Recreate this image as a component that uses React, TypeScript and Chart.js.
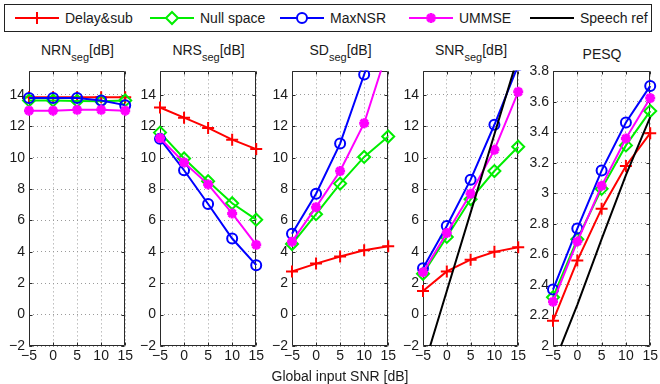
import React, { useEffect, useRef } from 'react';
import { Chart, registerables } from 'chart.js';

Chart.register(...registerables);

// ---------- data ----------
const inputSnr = [-5, 0, 5, 10, 15];
const xTickLabels = ['\u22125', '0', '5', '10', '15'];
const dbTicks = [-2, 0, 2, 4, 6, 8, 10, 12, 14];
const dbTickLabels = ['\u22122', '0', '2', '4', '6', '8', '10', '12', '14'];
const pesqTicks = [2, 2.2, 2.4, 2.6, 2.8, 3, 3.2, 3.4, 3.6, 3.8];
const pesqTickLabels = ['2', '2.2', '2.4', '2.6', '2.8', '3', '3.2', '3.4', '3.6', '3.8'];
const methodNames = ['Delay&sub', 'Null space', 'MaxNSR', 'UMMSE', 'Speech ref'];

const nrnDelay = [13.85, 13.85, 13.85, 13.85, 13.85];
const nrnNull = [13.65, 13.65, 13.62, 13.6, 13.65];
const nrnMax = [13.8, 13.8, 13.8, 13.65, 13.35];
const nrnUmmse = [13.0, 13.0, 13.05, 13.05, 13.0];

const nrsDelay = [13.2, 12.55, 11.9, 11.15, 10.55];
const nrsNull = [11.6, 9.95, 8.5, 7.1, 6.05];
const nrsMax = [11.2, 9.2, 7.05, 4.85, 3.15];
const nrsUmmse = [11.25, 9.7, 8.3, 6.45, 4.45];

const sdDelay = [2.75, 3.25, 3.7, 4.1, 4.35];
const sdNull = [4.5, 6.4, 8.35, 10.05, 11.35];
const sdMax = [5.15, 7.7, 10.9, 15.3, 19.7];
const sdUmmse = [4.65, 6.85, 9.15, 12.2, 17.0];

const snrDelay = [1.5, 2.75, 3.5, 4.0, 4.3];
const snrNull = [2.6, 4.95, 7.35, 9.15, 10.7];
const snrMax = [2.95, 5.65, 8.6, 12.1, 15.9];
const snrUmmse = [2.7, 5.2, 7.7, 10.5, 14.2];
const snrSpeech = [-3.5, 1.5, 6.5, 11.5, 16.5];

const pesqDelay = [2.165, 2.56, 2.9, 3.18, 3.395];
const pesqNull = [2.32, 2.7, 3.03, 3.315, 3.54];
const pesqMax = [2.37, 2.77, 3.15, 3.465, 3.705];
const pesqUmmse = [2.29, 2.685, 3.05, 3.36, 3.625];
const pesqSpeech = [1.87, 2.27, 2.7, 3.12, 3.5];

// ---------- styling ----------
const FONT = "'Liberation Sans', Arial, Helvetica, sans-serif";
const TEXT = '#1a1a1a';
const GRID = '#9a9a9a';
const FRAME = '#2a2a2a';
const RED = '#ff0000';
const GREEN = '#00ee00';
const BLUE = '#0000ff';
const MAGENTA = '#ff00ff';
const BLACK = '#000000';

const Y_AXIS_W = 29;
const PAD_R = 9;
const PAD_T = 10;
const CANVAS_TOP = 59;
const CANVAS_H = 311;
const X_AXIS_H = 24;

type Marker = 'cross' | 'rectRot' | 'circle' | 'star' | 'none';

function makeDataset(values: number[], color: string, marker: Marker, order: number) {
  const hollow = marker === 'circle' || marker === 'rectRot';
  return {
    data: inputSnr.map((x, i) => ({ x, y: values[i] })),
    borderColor: color,
    backgroundColor: color,
    borderWidth: 2,
    pointStyle: marker === 'none' ? false : marker,
    pointRadius: marker === 'none' ? 0 : marker === 'star' ? 5 : marker === 'circle' ? 5 : 6,
    pointBorderWidth: marker === 'star' ? 3 : 2,
    pointBorderColor: color,
    pointBackgroundColor: hollow ? 'rgba(255,255,255,0)' : color,
    tension: 0,
    order,
    clip: { left: 10, right: 10, top: 1, bottom: 0 },
  };
}

function methodSets(d: number[], n: number[], m: number[], u: number[], s?: number[]) {
  const sets: any[] = [
    makeDataset(d, RED, 'cross', 5),
    makeDataset(n, GREEN, 'rectRot', 4),
    makeDataset(m, BLUE, 'circle', 3),
    makeDataset(u, MAGENTA, 'star', 2),
  ];
  if (s) sets.push(makeDataset(s, BLACK, 'none', 1));
  return sets;
}

const framePlugin = {
  id: 'frameBox',
  beforeDatasetsDraw(chart: any) {
    const { ctx, chartArea: a, scales } = chart;
    const L = Math.round(a.left) + 0.5;
    const R = Math.round(a.right) - 0.5;
    const T = Math.round(a.top) + 0.5;
    const B = Math.round(a.bottom) - 0.5;
    ctx.save();
    ctx.strokeStyle = FRAME;
    ctx.lineWidth = 1;
    ctx.setLineDash([]);
    ctx.beginPath();
    ctx.rect(L, T, R - L, B - T);
    for (const t of scales.x.ticks) {
      const p = Math.round(scales.x.getPixelForValue(t.value)) + 0.5;
      ctx.moveTo(p, B); ctx.lineTo(p, B - 3);
      ctx.moveTo(p, T); ctx.lineTo(p, T + 3);
    }
    for (const t of scales.y.ticks) {
      const p = Math.round(scales.y.getPixelForValue(t.value)) + 0.5;
      ctx.moveTo(L, p); ctx.lineTo(L + 3, p);
      ctx.moveTo(R, p); ctx.lineTo(R - 3, p);
    }
    ctx.stroke();
    ctx.restore();
  },
};

type PanelProps = {
  plotLeft: number;
  plotRight: number;
  yMin: number;
  yMax: number;
  yTicks: number[];
  yLabels: string[];
  datasets: any[];
};

function Panel({ plotLeft, plotRight, yMin, yMax, yTicks, yLabels, datasets }: PanelProps) {
  const ref = useRef<HTMLCanvasElement>(null);
  const width = plotRight - plotLeft + Y_AXIS_W + PAD_R;
  useEffect(() => {
    if (!ref.current) return;
    const tickFont = { family: FONT, size: 14 };
    const chart = new Chart(ref.current, {
      type: 'line',
      data: { datasets },
      options: {
        animation: false,
        responsive: false,
        maintainAspectRatio: false,
        events: [],
        layout: { padding: { top: PAD_T, right: PAD_R, left: 0, bottom: 0 } },
        plugins: { legend: { display: false }, tooltip: { enabled: false }, title: { display: false } },
        scales: {
          x: {
            type: 'linear',
            min: inputSnr[0],
            max: inputSnr[inputSnr.length - 1],
            afterBuildTicks: (s: any) => { s.ticks = inputSnr.map((v) => ({ value: v })); },
            afterFit: (s: any) => { s.height = X_AXIS_H; },
            ticks: {
              font: tickFont, color: TEXT, padding: 2, maxRotation: 0, autoSkip: false,
              callback: (_v: any, i: number) => xTickLabels[i],
            },
            grid: { color: GRID, lineWidth: 1, drawTicks: false },
            border: { display: false, dash: [1, 3] },
          },
          y: {
            type: 'linear',
            min: yMin,
            max: yMax,
            afterBuildTicks: (s: any) => { s.ticks = yTicks.map((v) => ({ value: v })); },
            afterFit: (s: any) => { s.width = Y_AXIS_W; },
            ticks: {
              font: tickFont, color: TEXT, padding: 4, autoSkip: false,
              callback: (_v: any, i: number) => yLabels[i],
            },
            grid: { color: GRID, lineWidth: 1, drawTicks: false },
            border: { display: false, dash: [1, 3] },
          },
        },
      } as any,
      plugins: [framePlugin],
    });
    return () => chart.destroy();
  }, []);
  return (
    <canvas
      ref={ref}
      width={width}
      height={CANVAS_H}
      style={{ position: 'absolute', left: plotLeft - Y_AXIS_W, top: CANVAS_TOP, width, height: CANVAS_H }}
    />
  );
}

function Title({ cx, main, sub, tail, baseline }: { cx: number; main: string; sub?: string; tail?: string; baseline: number }) {
  return (
    <div
      style={{
        position: 'absolute', left: cx - 60, width: 120, top: baseline - 13, textAlign: 'center',
        fontFamily: FONT, fontSize: 14, lineHeight: '16px', color: TEXT, whiteSpace: 'nowrap',
      }}
    >
      {main}
      {sub ? <span style={{ fontSize: 11, verticalAlign: '-6px' }}>{sub}</span> : null}
      {tail}
    </div>
  );
}

const legendColors = [RED, GREEN, BLUE, MAGENTA, BLACK];
const legendMarkers: Marker[] = ['cross', 'rectRot', 'circle', 'star', 'none'];
// absolute x of each legend text start
const legendTextStart = [65, 200, 330, 459, 580];
const LEGEND_LEFT = 4;

function LegendMarker({ kind, cx, cy, color }: { kind: Marker; cx: number; cy: number; color: string }) {
  if (kind === 'cross') {
    return <path d={`M${cx - 6} ${cy}H${cx + 6}M${cx} ${cy - 6}V${cy + 6}`} stroke={color} strokeWidth={2} />;
  }
  if (kind === 'rectRot') {
    return <polygon points={`${cx},${cy - 6} ${cx + 6},${cy} ${cx},${cy + 6} ${cx - 6},${cy}`} fill="#fff" stroke={color} strokeWidth={2} />;
  }
  if (kind === 'circle') {
    return <circle cx={cx} cy={cy} r={5} fill="#fff" stroke={color} strokeWidth={2} />;
  }
  if (kind === 'star') {
    const r = 5, q = 3.5;
    return (
      <path
        d={`M${cx - r} ${cy}H${cx + r}M${cx} ${cy - r}V${cy + r}M${cx - q} ${cy - q}L${cx + q} ${cy + q}M${cx - q} ${cy + q}L${cx + q} ${cy - q}`}
        stroke={color} strokeWidth={3}
      />
    );
  }
  return null;
}

function Legend() {
  const cy = 13;
  const inner = LEGEND_LEFT + 1;
  return (
    <div style={{ position: 'absolute', left: LEGEND_LEFT, top: 4, width: 646, height: 26, border: '1px solid #222', background: '#fff' }}>
      <svg width={646} height={26} style={{ position: 'absolute', left: 0, top: 0 }}>
        {methodNames.map((_, i) => {
          const x1 = legendTextStart[i] - inner - 6;
          const x0 = x1 - 44;
          return (
            <g key={i}>
              <line x1={x0} y1={cy} x2={x1} y2={cy} stroke={legendColors[i]} strokeWidth={2} />
              <LegendMarker kind={legendMarkers[i]} cx={(x0 + x1) / 2} cy={cy} color={legendColors[i]} />
            </g>
          );
        })}
      </svg>
      {methodNames.map((name, i) => (
        <span
          key={name}
          style={{
            position: 'absolute', left: legendTextStart[i] - inner, top: 5, fontFamily: FONT, fontSize: 14,
            lineHeight: '16px', color: TEXT, whiteSpace: 'nowrap',
          }}
        >
          {name}
        </span>
      ))}
    </div>
  );
}

const plots = [
  { l: 29, r: 126 },
  { l: 160, r: 257 },
  { l: 292, r: 389 },
  { l: 423, r: 519 },
  { l: 553, r: 651 },
];

export default function App() {
  return (
    <div style={{ position: 'absolute', left: 0, top: 0, width: 660, height: 384, background: '#fff', overflow: 'hidden' }}>
      <Legend />
      <Title cx={(plots[0].l + plots[0].r) / 2} main="NRN" sub="seg" tail="[dB]" baseline={55} />
      <Title cx={(plots[1].l + plots[1].r) / 2} main="NRS" sub="seg" tail="[dB]" baseline={55} />
      <Title cx={(plots[2].l + plots[2].r) / 2} main="SD" sub="seg" tail="[dB]" baseline={55} />
      <Title cx={(plots[3].l + plots[3].r) / 2} main="SNR" sub="seg" tail="[dB]" baseline={55} />
      <Title cx={(plots[4].l + plots[4].r) / 2} main="PESQ" baseline={59} />
      <Panel plotLeft={plots[0].l} plotRight={plots[0].r} yMin={-2} yMax={15.5} yTicks={dbTicks} yLabels={dbTickLabels}
        datasets={methodSets(nrnDelay, nrnNull, nrnMax, nrnUmmse)} />
      <Panel plotLeft={plots[1].l} plotRight={plots[1].r} yMin={-2} yMax={15.5} yTicks={dbTicks} yLabels={dbTickLabels}
        datasets={methodSets(nrsDelay, nrsNull, nrsMax, nrsUmmse)} />
      <Panel plotLeft={plots[2].l} plotRight={plots[2].r} yMin={-2} yMax={15.5} yTicks={dbTicks} yLabels={dbTickLabels}
        datasets={methodSets(sdDelay, sdNull, sdMax, sdUmmse)} />
      <Panel plotLeft={plots[3].l} plotRight={plots[3].r} yMin={-2} yMax={15.5} yTicks={dbTicks} yLabels={dbTickLabels}
        datasets={methodSets(snrDelay, snrNull, snrMax, snrUmmse, snrSpeech)} />
      <Panel plotLeft={plots[4].l} plotRight={plots[4].r} yMin={2} yMax={3.8} yTicks={pesqTicks} yLabels={pesqTickLabels}
        datasets={methodSets(pesqDelay, pesqNull, pesqMax, pesqUmmse, pesqSpeech)} />
      <div style={{ position: 'absolute', left: 240, width: 200, top: 368, textAlign: 'center', fontFamily: FONT, fontSize: 14, lineHeight: '16px', color: TEXT }}>
        Global input SNR [dB]
      </div>
    </div>
  );
}
